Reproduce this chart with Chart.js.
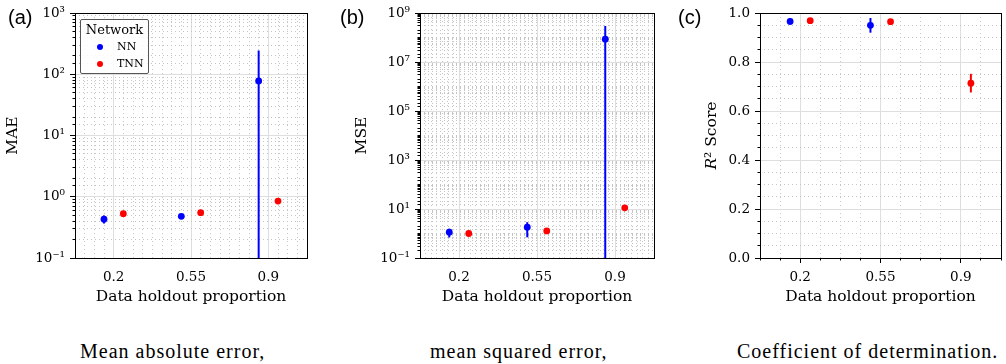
<!DOCTYPE html>
<html>
<head>
<meta charset="utf-8">
<script src="https://cdn.jsdelivr.net/npm/chart.js@4.4.0/dist/chart.umd.min.js"></script>
<style>
  body { margin: 0; background: #fff; width: 1006px; height: 364px; overflow: hidden; position: relative; }
  .panel { position: absolute; top: 0; }
  .tag { position: absolute; top: 7px; font-family: 'Liberation Sans', Arial, sans-serif; font-size: 20px; line-height: 20px; color: #000; }
  .caption { position: absolute; top: 341px; font-family: 'Liberation Serif', serif; font-size: 20px; line-height: 20px; letter-spacing: 1px; white-space: nowrap; color: #000; }
  .legend { position: absolute; left: 80px; top: 19px; width: 67px; height: 53px; border: 1px solid #555; border-radius: 2px; background: rgba(255,255,255,0.85); font-family: 'DejaVu Serif', serif; color: #000; }
  .legend .lt { position: absolute; left: 0; right: 0; top: 2px; text-align: center; font-size: 13px; line-height: 16px; }
  .legend .li { position: absolute; left: 36px; font-size: 11px; line-height: 14px; }
  .legend .dot { position: absolute; left: -20px; top: 4px; width: 6px; height: 6px; border-radius: 50%; }
</style>
</head>
<body>
<canvas id="cMae" class="panel" style="left:0px" width="320" height="310"></canvas>
<canvas id="cMse" class="panel" style="left:340px" width="330" height="310"></canvas>
<canvas id="cR2" class="panel" style="left:670px" width="336" height="310"></canvas>
<div class="legend" id="legend"><div class="lt">Network</div></div>
<div class="tag" style="left:8px">(a)</div>
<div class="tag" style="left:340px">(b)</div>
<div class="tag" style="left:678px">(c)</div>
<div class="caption" style="left:80px">Mean absolute error,</div>
<div class="caption" style="left:430px">mean squared error,</div>
<div class="caption" style="left:737px">Coefficient of determination.</div>
<script>
// categories and series
const holdout = ['0.2', '0.55', '0.9'];
const seriesNames = ['NN', 'TNN'];
const seriesColors = ['#0000ff', '#ff0000'];

// MAE
const maeNN = [0.43, 0.48, 78];
const maeNNErr = [0.065, 0.02, 166];
const maeTNN = [0.53, 0.55, 0.85];
const maeTNNErr = [0.015, 0.015, 0.03];

// MSE
const mseNN = [1.13, 1.8, 8.6e7];
const mseNNErr = [0.44, 1.1, 2.1e8];
const mseTNN = [1.0, 1.27, 11.2];
const mseTNNErr = [0.04, 0.06, 0.6];

// R2 (NN at 0.9 is off the axis)
const r2NN = [0.966, 0.95, null];
const r2NNErr = [0.013, 0.03, null];
const r2TNN = [0.969, 0.965, 0.714];
const r2TNNErr = [0.004, 0.005, 0.038];

// tick labels
const maeTicks = [0.1, 1, 10, 100, 1000];
const mseTicks = [0.1, 10, 1e3, 1e5, 1e7, 1e9];
const r2Ticks = [0, 0.2, 0.4, 0.6, 0.8, 1.0];

const SERIF = "'DejaVu Serif', serif";
const offsets = [-0.125, 0.125];
const sup = { '-': '⁻', '0': '⁰', '1': '¹', '2': '²', '3': '³', '4': '⁴', '5': '⁵', '6': '⁶', '7': '⁷', '8': '⁸', '9': '⁹' };
const powLabel = v => '10' + String(Math.round(Math.log10(v))).split('').map(c => sup[c]).join('');
const isIn = (list, v) => list.some(t => Math.abs(t - v) <= 1e-7 * Math.max(1, Math.abs(t)));

// legend
const legendEl = document.getElementById('legend');
seriesNames.forEach((name, i) => {
    const row = document.createElement('div');
    row.className = 'li';
    row.style.top = (20 + i * 17) + 'px';
    row.innerHTML = '<span class="dot" style="background:' + seriesColors[i] + '"></span>' + name;
    legendEl.appendChild(row);
});

// box round the plot area (matplotlib spines)
const frame = {
    id: 'frame',
    afterDraw(chart) {
        const { ctx, chartArea: a } = chart;
        ctx.save();
        ctx.strokeStyle = '#000';
        ctx.lineWidth = 1;
        ctx.strokeRect(Math.round(a.left) + 0.5, Math.round(a.top) + 0.5, Math.round(a.right - a.left), Math.round(a.bottom - a.top));
        ctx.restore();
    }
};

function pointSet(means, s) {
    return {
        label: seriesNames[s],
        data: means.map((m, i) => m == null ? null : { x: i + offsets[s], y: m }).filter(Boolean),
        pointBackgroundColor: seriesColors[s],
        pointBorderWidth: 0,
        pointRadius: 3.4,
        order: 0
    };
}

function errorSets(means, errs, s, floor) {
    return means.map((m, i) => m == null ? null : {
        label: seriesNames[s] + ' err',
        showLine: true,
        data: [{ x: i + offsets[s], y: Math.max(m - errs[i], floor) }, { x: i + offsets[s], y: m + errs[i] }],
        borderColor: seriesColors[s],
        borderWidth: 2,
        pointRadius: 0,
        order: 1
    }).filter(Boolean);
}

function makeChart(id, cfg) {
    const isLog = cfg.yType === 'logarithmic';
    const tickFont = { family: SERIF, size: 13.5 };
    const titleFont = { family: SERIF, size: 15.5 };
    const datasets = [
        ...errorSets(cfg.nn, cfg.nnErr, 0, cfg.floor),
        ...errorSets(cfg.tnn, cfg.tnnErr, 1, cfg.floor),
        pointSet(cfg.nn, 0),
        pointSet(cfg.tnn, 1)
    ];
    return new Chart(document.getElementById(id), {
        type: 'scatter',
        data: { datasets },
        options: {
            responsive: false,
            animation: false,
            devicePixelRatio: 1,
            layout: { padding: { top: cfg.top, right: cfg.right, left: 0, bottom: 0 } },
            plugins: { legend: { display: false }, tooltip: { enabled: false } },
            scales: {
                x: {
                    type: 'linear', position: 'bottom', min: -0.5, max: 2.5, weight: 1,
                    afterBuildTicks: s => { s.ticks = holdout.map((_, i) => ({ value: i })); },
                    ticks: { callback: v => holdout[v], font: tickFont, color: '#000', padding: cfg.xTicks ? 6 : 11, maxRotation: 0 },
                    grid: { color: '#dedede', drawTicks: cfg.xTicks, tickLength: 5, tickColor: '#000' },
                    border: { color: '#000' },
                    title: { display: true, text: 'Data holdout proportion', font: titleFont, color: '#000', padding: { top: 0, bottom: 4 } },
                    afterFit: s => { s.height = cfg.bottomH; }
                },
                xm: {
                    type: 'linear', position: 'bottom', min: -0.5, max: 2.5, weight: 0,
                    afterBuildTicks: s => { s.ticks = s.ticks.filter(t => !isIn([0, 1, 2], t.value)); },
                    ticks: { display: false, stepSize: cfg.xMinor },
                    grid: { color: '#c4c4c4', drawTicks: cfg.xTicks, tickLength: 2.5, tickColor: '#000' },
                    border: { display: false, dash: [1, 3] },
                    afterFit: s => { s.height = 0; }
                },
                y: {
                    type: cfg.yType, position: 'left', min: cfg.yMin, max: cfg.yMax, weight: 1,
                    afterBuildTicks: s => { s.ticks = cfg.yTicks.map(v => ({ value: v, major: true })); },
                    ticks: { callback: cfg.yFmt, font: tickFont, color: '#000', padding: 5, autoSkip: false },
                    grid: { color: '#dedede', drawTicks: true, tickLength: 5, tickColor: '#000' },
                    border: { color: '#000' },
                    title: { display: true, text: cfg.yLabel, font: titleFont, color: '#000', padding: { top: cfg.titlePad, bottom: 0 } },
                    afterFit: s => { s.width = cfg.yWidth; }
                },
                ym: {
                    type: cfg.yType, position: 'left', min: cfg.yMin, max: cfg.yMax, weight: 0,
                    afterBuildTicks: s => { s.ticks = s.ticks.filter(t => !isIn(cfg.yTicks, t.value)); },
                    ticks: isLog ? { display: false } : { display: false, stepSize: cfg.yMinor },
                    grid: { color: '#c4c4c4', drawTicks: true, tickLength: 2.5, tickColor: '#000' },
                    border: { display: false, dash: [1, 3] },
                    afterFit: s => { s.width = 0; }
                }
            }
        },
        plugins: [frame]
    });
}

makeChart('cMae', {
    yType: 'logarithmic', yMin: 0.1, yMax: 1000, yTicks: maeTicks, yFmt: powLabel, yLabel: 'MAE',
    nn: maeNN, nnErr: maeNNErr, tnn: maeTNN, tnnErr: maeTNNErr, floor: 1e-6,
    xMinor: 0.125, xTicks: false, yWidth: 75, titlePad: 4, top: 13, right: 13, bottomH: 52
});

makeChart('cMse', {
    yType: 'logarithmic', yMin: 0.1, yMax: 1e9, yTicks: mseTicks, yFmt: powLabel, yLabel: 'MSE',
    nn: mseNN, nnErr: mseNNErr, tnn: mseTNN, tnnErr: mseTNNErr, floor: 1e-6,
    xMinor: 1 / 14, xTicks: false, yWidth: 80, titlePad: 13, top: 13, right: 16, bottomH: 52
});

makeChart('cR2', {
    yType: 'linear', yMin: 0, yMax: 1, yTicks: r2Ticks, yFmt: v => v.toFixed(1), yLabel: '𝑅² Score', yMinor: 0.05,
    nn: r2NN, nnErr: r2NNErr, tnn: r2TNN, tnnErr: r2TNNErr, floor: -10,
    xMinor: 0.25, xTicks: true, yWidth: 90, titlePad: 33, top: 12, right: 5, bottomH: 52
});
</script>
</body>
</html>
